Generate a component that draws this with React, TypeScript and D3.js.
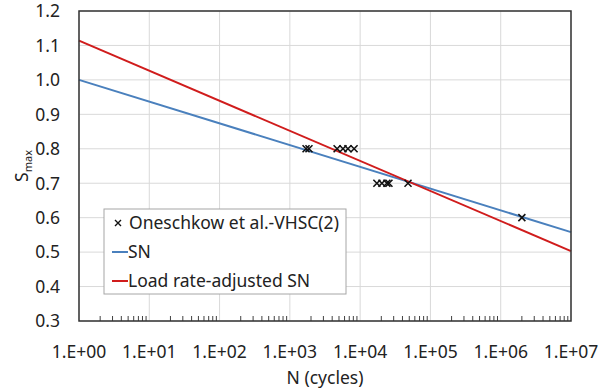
import React from 'react';
import * as d3 from 'd3';

// test data (N cycles, Smax)
const pointsN = [1.7e3, 1.87e3, 4.7e3, 5.7e3, 6.7e3, 8.2e3, 1.73e4, 2.04e4, 2.4e4, 2.57e4, 4.8e4, 2.0e6];
const pointsS = [0.8, 0.8, 0.8, 0.8, 0.8, 0.8, 0.7, 0.7, 0.7, 0.7, 0.7, 0.6];

// fitted curves, end points
const lineN = [1, 1e7];
const snS = [1.0, 0.558];
const adjustedS = [1.114, 0.503];

const xTicks = [1e0, 1e1, 1e2, 1e3, 1e4, 1e5, 1e6, 1e7];
const yTicks = [0.3, 0.4, 0.5, 0.6, 0.7, 0.8, 0.9, 1.0, 1.1, 1.2];

const legendLabels = ['Oneschkow et al.-VHSC(2)', 'SN', 'Load rate-adjusted SN'];

const width = 603;
const height = 390;
const margin = { top: 11, right: 32, bottom: 69, left: 79 };
const font = "'Noto Sans', sans-serif";
const fs = 17.5;
const blue = '#4a80bd';
const red = '#d01c1c';

const App = () => {
  const x = d3.scaleLog().domain([1, 1e7]).range([margin.left, width - margin.right]);
  const y = d3.scaleLinear().domain([0.3, 1.2]).range([height - margin.bottom, margin.top]);

  const minor: number[] = [];
  for (let e = 0; e < 7; e++) for (let k = 2; k <= 9; k++) minor.push(k * Math.pow(10, e));

  const line = d3.line<[number, number]>().x(d => x(d[0])).y(d => y(d[1]));
  const sn = line(lineN.map((n, i) => [n, snS[i]]));
  const adj = line(lineN.map((n, i) => [n, adjustedS[i]]));

  const x0 = margin.left, x1 = width - margin.right;
  const y0 = margin.top, y1 = height - margin.bottom;

  return (
    <svg width={width} height={height} style={{ position: 'absolute', left: 0, top: 0 }} fontFamily={font}>
      <rect width={width} height={height} fill="#fff" />
      {/* grid */}
      {yTicks.map(t => (
        <line key={'gy' + t} x1={x0} x2={x1} y1={y(t)} y2={y(t)} stroke="#d9d9d9" />
      ))}
      {xTicks.map(t => (
        <line key={'gx' + t} x1={x(t)} x2={x(t)} y1={y0} y2={y1} stroke="#d9d9d9" />
      ))}
      {/* minor ticks along bottom */}
      {minor.map(t => (
        <line key={'m' + t} x1={x(t)} x2={x(t)} y1={y1} y2={y1 - 5} stroke="#404040" />
      ))}
      <path d={sn ?? ''} fill="none" stroke={blue} strokeWidth={2} />
      <path d={adj ?? ''} fill="none" stroke={red} strokeWidth={2} />
      {pointsN.map((n, i) => {
        const cx = x(n), cy = y(pointsS[i]);
        return (
          <path key={'p' + i} d={`M${cx - 3.5},${cy - 3.5}L${cx + 3.5},${cy + 3.5}M${cx - 3.5},${cy + 3.5}L${cx + 3.5},${cy - 3.5}`}
            stroke="#111" strokeWidth={1.6} />
        );
      })}
      <rect x={x0} y={y0} width={x1 - x0} height={y1 - y0} fill="none" stroke="#333" strokeWidth={1.5} />
      {/* tick labels */}
      {yTicks.map(t => (
        <text key={'ly' + t} x={x0 - 19} y={y(t)} dy="0.36em" textAnchor="end" fontSize={fs} fill="#222">
          {d3.format('.1f')(t)}
        </text>
      ))}
      {xTicks.map(t => (
        <text key={'lx' + t} x={x(t)} y={y1 + 37} textAnchor="middle" fontSize={fs} fill="#222">
          {'1.E+' + String(Math.round(Math.log10(t))).padStart(2, '0')}
        </text>
      ))}
      <text x={(x0 + x1) / 2} y={384} textAnchor="middle" fontSize={fs} fill="#222">N (cycles)</text>
      <text transform="translate(28,166) rotate(-90)" textAnchor="middle" fontSize={fs} fill="#222">
        S<tspan fontSize={11} dy={4}>max</tspan>
      </text>
      {/* legend */}
      <g transform="translate(104,209)">
        <rect width={242} height={85} fill="#fff" stroke="#a6a6a6" />
        <path d="M11,11L17,17M11,17L17,11" stroke="#111" strokeWidth={1.4} />
        <text x={25} y={20} fontSize={fs} fill="#222">{legendLabels[0]}</text>
        <line x1={8} x2={24} y1={43} y2={43} stroke={blue} strokeWidth={2} />
        <text x={24} y={49} fontSize={fs} fill="#222">{legendLabels[1]}</text>
        <line x1={8} x2={24} y1={72} y2={72} stroke={red} strokeWidth={2} />
        <text x={24} y={78} fontSize={fs} fill="#222">{legendLabels[2]}</text>
      </g>
    </svg>
  );
};

export default App;
